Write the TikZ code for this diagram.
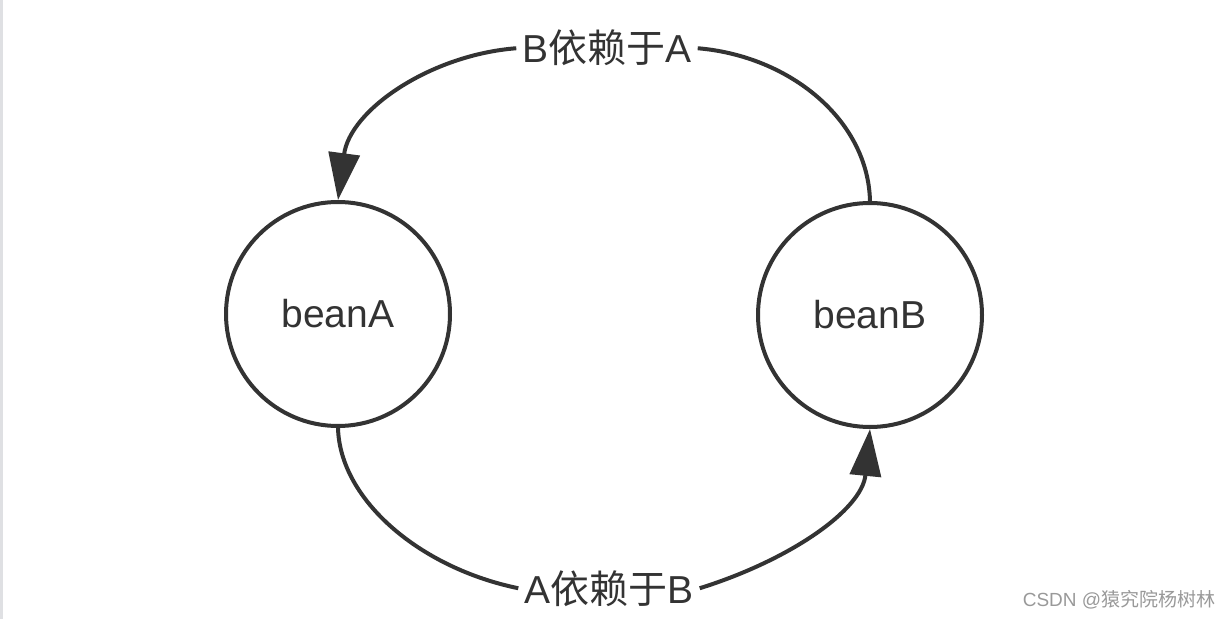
\documentclass[tikz,border=0pt]{standalone}
\usepackage{fontspec}
\setmainfont{Liberation Sans}
\newfontfamily\cjk{Noto Sans CJK SC}
\usetikzlibrary{arrows.meta}
\definecolor{ink}{HTML}{333333}
\definecolor{mark}{HTML}{999999}
\definecolor{strip}{HTML}{DFE0E3}

\begin{document}
\begin{tikzpicture}[x=1bp,y=-1bp,
        bean/.style={circle,draw=ink,line width=4bp,minimum size=224bp,inner sep=0pt,text=ink,font=\fontsize{39bp}{47bp}\selectfont},
        dep/.style={text=ink,inner xsep=6bp,inner ysep=0pt,font=\fontsize{39bp}{47bp}\selectfont},
        link/.style={draw=ink,line width=4bp},
        tip/.style={-{Triangle[length=47bp,width=31bp]}}]
        % 画布大小
        \useasboundingbox (0,0) rectangle (1230,619);
        \fill[strip] (0,0) rectangle (3,619);
        % 两个bean
        \node[bean] (beanA) at (338,314) {beanA};
        \node[bean] (beanB) at (870,315) {beanB};
        % 依赖标签
        \node[dep,anchor=base] (BdepA) at (607,63) {B{\cjk 依赖于}A};
        \node[dep,anchor=base] (AdepB) at (609,603) {A{\cjk 依赖于}B};
        % B依赖于A
        \draw[link] (beanB.north) .. controls (868,120) and (790,56) .. (BdepA.east);
        \draw[link,tip] (BdepA.west) .. controls (430,55) and (350,110) .. (beanA.north);
        % A依赖于B
        \draw[link] (beanA.south) .. controls (340,500) and (420,568) .. (AdepB.west);
        \draw[link,tip] (AdepB.east) .. controls (790,560) and (862,510) .. (beanB.south);
        % 水印
        \node[text=mark,font=\fontsize{19bp}{23bp}\selectfont] (csdn) at (1119,600) {CSDN @{\cjk 猿究院杨树林}};
    \end{tikzpicture}
\end{document}
